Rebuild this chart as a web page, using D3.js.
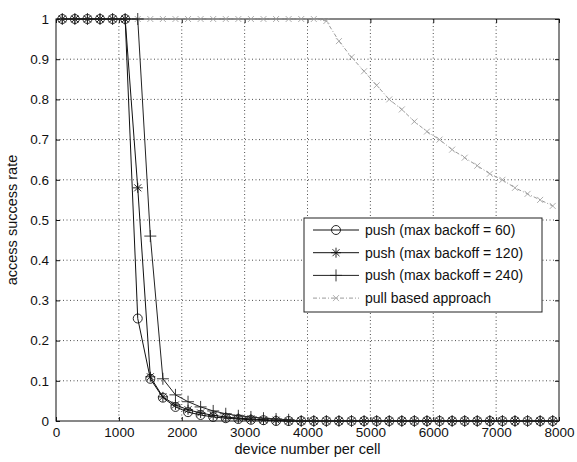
<!DOCTYPE html>
<html>
<head>
<meta charset="utf-8">
<script src="https://cdn.jsdelivr.net/npm/d3@7/dist/d3.min.js"></script>
<style>
  body { margin: 0; background: #fff; }
  text { font-family: "Liberation Sans", Arial, Helvetica, sans-serif; }
</style>
</head>
<body>
<svg id="chart" width="577" height="462"></svg>
<script>
// device numbers (x) shared by every series
const deviceNumbers = [100, 300, 500, 700, 900, 1100, 1300, 1500, 1700, 1900,
  2100, 2300, 2500, 2700, 2900, 3100, 3300, 3500, 3700, 3900,
  4100, 4300, 4500, 4700, 4900, 5100, 5300, 5500, 5700, 5900,
  6100, 6300, 6500, 6700, 6900, 7100, 7300, 7500, 7700, 7900]

const push60 = [1, 1, 1, 1, 1, 1, 0.255, 0.105, 0.058, 0.035,
  0.022, 0.015, 0.01, 0.007, 0.005, 0.003, 0.002, 0, 0, 0,
  0, 0, 0, 0, 0, 0, 0, 0, 0, 0,
  0, 0, 0, 0, 0, 0, 0, 0, 0, 0]

const push120 = [1, 1, 1, 1, 1, 1, 0.58, 0.11, 0.06, 0.04,
  0.028, 0.02, 0.014, 0.01, 0.007, 0.005, 0.003, 0.002, 0, 0,
  0, 0, 0, 0, 0, 0, 0, 0, 0, 0,
  0, 0, 0, 0, 0, 0, 0, 0, 0, 0]

const push240 = [1, 1, 1, 1, 1, 1, 1, 0.46, 0.105, 0.065,
  0.048, 0.035, 0.025, 0.018, 0.013, 0.01, 0.007, 0.005, 0.003, 0,
  0, 0, 0, 0, 0, 0, 0, 0, 0, 0,
  0, 0, 0, 0, 0, 0, 0, 0, 0, 0]

const pullBased = [1, 1, 1, 1, 1, 1, 1, 1, 1, 1,
  1, 1, 1, 1, 1, 1, 1, 1, 1, 1,
  1, 0.995, 0.945, 0.905, 0.87, 0.835, 0.80, 0.775, 0.745, 0.72,
  0.70, 0.675, 0.655, 0.635, 0.615, 0.60, 0.58, 0.565, 0.55, 0.535]

const xTicks = [0, 1000, 2000, 3000, 4000, 5000, 6000, 7000, 8000]
const yTicks = [0, 0.1, 0.2, 0.3, 0.4, 0.5, 0.6, 0.7, 0.8, 0.9, 1]

const seriesList = [
  { name: 'push (max backoff = 60)', values: push60, marker: 'circle', color: '#111', dash: null },
  { name: 'push (max backoff = 120)', values: push120, marker: 'star', color: '#111', dash: null },
  { name: 'push (max backoff = 240)', values: push240, marker: 'plus', color: '#222', dash: null },
  { name: 'pull based approach', values: pullBased, marker: 'x', color: '#9a9a9a', dash: '4,2,1,2' }
]

const dims = { left: 56, right: 559, top: 19, bottom: 421 }

const svg = d3.select('#chart')
const x = d3.scaleLinear().domain([0, 8000]).range([dims.left, dims.right])
const y = d3.scaleLinear().domain([0, 1]).range([dims.bottom, dims.top])

// grid (dotted)
const grid = svg.append('g')
grid.selectAll('.gx')
  .data(xTicks.slice(1, -1))
  .enter().append('line')
  .attr('x1', d => x(d)).attr('x2', d => x(d))
  .attr('y1', dims.top).attr('y2', dims.bottom)
  .attr('stroke', '#222').attr('stroke-width', 0.8)
  .attr('stroke-dasharray', '1,2.5')
grid.selectAll('.gy')
  .data(yTicks.slice(1, -1))
  .enter().append('line')
  .attr('x1', dims.left).attr('x2', dims.right)
  .attr('y1', d => y(d)).attr('y2', d => y(d))
  .attr('stroke', '#222').attr('stroke-width', 0.8)
  .attr('stroke-dasharray', '1,2.5')

// axes (ticks inside, like matlab)
const axisBottom = svg.append('g')
  .attr('transform', `translate(0,${dims.bottom})`)
  .call(d3.axisBottom(x).tickValues(xTicks).tickSize(-4).tickPadding(6).tickFormat(d3.format('d')))
const axisLeft = svg.append('g')
  .attr('transform', `translate(${dims.left},0)`)
  .call(d3.axisLeft(y).tickValues(yTicks).tickSize(-4).tickPadding(7).tickFormat(d => d === 0 || d === 1 ? d : d3.format('.1f')(d)))
const axisTop = svg.append('g')
  .attr('transform', `translate(0,${dims.top})`)
  .call(d3.axisTop(x).tickValues(xTicks).tickSize(-4).tickFormat(''))
const axisRight = svg.append('g')
  .attr('transform', `translate(${dims.right},0)`)
  .call(d3.axisRight(y).tickValues(yTicks).tickSize(-4).tickFormat(''))

for (const ax of [axisBottom, axisLeft, axisTop, axisRight]) {
  ax.select('.domain').remove()
  ax.selectAll('line').attr('stroke', '#111')
  ax.selectAll('text').attr('font-size', 13.5).attr('fill', '#111')
}

svg.append('rect')
  .attr('x', dims.left).attr('y', dims.top)
  .attr('width', dims.right - dims.left).attr('height', dims.bottom - dims.top)
  .attr('fill', 'none').attr('stroke', '#111').attr('stroke-width', 1)

// markers
function drawMarker(g, type, cx, cy, color) {
  if (type === 'circle') {
    g.append('circle').attr('cx', cx).attr('cy', cy).attr('r', 4.5)
      .attr('fill', 'none').attr('stroke', color).attr('stroke-width', 0.9)
  } else if (type === 'plus') {
    g.append('path').attr('d', `M${cx - 6},${cy}H${cx + 6}M${cx},${cy - 6}V${cy + 6}`)
      .attr('stroke', color).attr('stroke-width', 0.9)
  } else if (type === 'x') {
    g.append('path').attr('d', `M${cx - 3},${cy - 3}L${cx + 3},${cy + 3}M${cx - 3},${cy + 3}L${cx + 3},${cy - 3}`)
      .attr('stroke', color).attr('stroke-width', 0.8)
  } else if (type === 'star') {
    g.append('path').attr('d', `M${cx - 5},${cy}H${cx + 5}M${cx},${cy - 5}V${cy + 5}M${cx - 3.5},${cy - 3.5}L${cx + 3.5},${cy + 3.5}M${cx - 3.5},${cy + 3.5}L${cx + 3.5},${cy - 3.5}`)
      .attr('stroke', color).attr('stroke-width', 0.9)
  }
}

const line = d3.line()
  .x(d => x(d[0]))
  .y(d => y(d[1]))

// draw pull first so push series sit on top
const drawOrder = [3, 0, 1, 2]
drawOrder.forEach(i => {
  const s = seriesList[i]
  const pts = deviceNumbers.map((n, k) => [n, s.values[k]])
  const g = svg.append('g')
  g.append('path')
    .datum(pts)
    .attr('d', line)
    .attr('fill', 'none')
    .attr('stroke', s.color)
    .attr('stroke-width', 1)
    .attr('stroke-dasharray', s.dash)
  pts.forEach(p => drawMarker(g, s.marker, x(p[0]), y(p[1]), s.color))
})

// legend
const legend = svg.append('g').attr('transform', 'translate(304,218)')
legend.append('rect')
  .attr('x', 0).attr('y', 0).attr('width', 238).attr('height', 94)
  .attr('fill', '#fff').attr('stroke', '#222').attr('stroke-width', 1)
seriesList.forEach((s, i) => {
  const ly = 12 + i * 22.7
  legend.append('line')
    .attr('x1', 9).attr('x2', 55).attr('y1', ly).attr('y2', ly)
    .attr('stroke', s.color).attr('stroke-width', 1)
    .attr('stroke-dasharray', s.dash)
  drawMarker(legend, s.marker, 32, ly, s.color)
  legend.append('text')
    .attr('x', 61).attr('y', ly + 5)
    .attr('font-size', 14).attr('fill', '#111')
    .text(s.name)
})

// axis titles
svg.append('text')
  .attr('x', (dims.left + dims.right) / 2).attr('y', 454)
  .attr('text-anchor', 'middle').attr('font-size', 14.5).attr('fill', '#111')
  .text('device number per cell')
svg.append('text')
  .attr('transform', `translate(17,${(dims.top + dims.bottom) / 2}) rotate(-90)`)
  .attr('text-anchor', 'middle').attr('font-size', 14.5).attr('fill', '#111')
  .text('access success rate')
</script>
</body>
</html>
